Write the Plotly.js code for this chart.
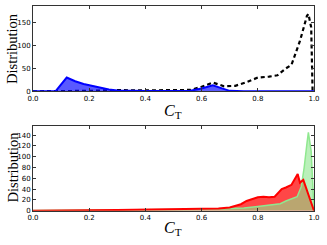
<!DOCTYPE html>
<html>
<head>
<meta charset="utf-8">
<script src="https://cdn.plot.ly/plotly-3.0.1.min.js"></script>
<style>html,body{margin:0;padding:0;background:#fff;}#chart{width:327px;height:245px;}</style>
</head>
<body>
<div id="chart"></div>
<script>
// Top panel data
const blueX = [0, 0.08, 0.12, 0.15, 0.18, 0.21, 0.24, 0.27, 0.3, 0.35, 0.4, 0.5, 0.56, 0.6, 0.64, 0.67, 0.7, 0.75, 1.0];
const blueY = [0, 0, 30, 22, 16, 12, 8, 4, 2, 1, 0.5, 0.5, 1, 6, 13, 7, 1, 0, 0];
const dashX = [0, 0.1, 0.2, 0.26, 0.3, 0.4, 0.5, 0.56, 0.6, 0.64, 0.68, 0.72, 0.76, 0.8, 0.84, 0.87, 0.9, 0.92, 0.95, 0.975, 0.98, 0.99, 0.995];
const dashY = [0, 0, 1, 2, 2.5, 2, 2, 3, 10, 19, 11, 12, 20, 30, 32, 35, 50, 58, 110, 165, 169, 140, 0];
// Bottom panel data
const redX = [0, 0.15, 0.2, 0.3, 0.4, 0.5, 0.6, 0.66, 0.7, 0.72, 0.74, 0.76, 0.78, 0.8, 0.82, 0.84, 0.86, 0.885, 0.9, 0.92, 0.942, 0.95, 0.962, 1.0];
const redY = [0, 0, 1, 1.5, 2, 2, 3.5, 4, 6, 9, 12, 18, 22, 25, 26, 25, 26, 40, 43, 48, 68, 52, 57, 0];
const greenX = [0, 0.2, 0.4, 0.5, 0.6, 0.7, 0.75, 0.8, 0.85, 0.88, 0.9, 0.92, 0.94, 0.955, 0.965, 0.975, 0.98, 0.99, 1.0];
const greenY = [0.5, 1, 1, 1.5, 2.5, 4, 5, 8, 11, 13, 18, 22, 26, 45, 80, 125, 145, 110, 0];
const xTickVals = [0, 0.2, 0.4, 0.6, 0.8, 1.0];
const xTickText = ['0.0', '0.2', '0.4', '0.6', '0.8', '1.0'];
const topYTicks = [0, 50, 100, 150];
const botYTicks = [0, 20, 40, 60, 80, 100, 120, 140];

const W = 327, H = 245;
const px = v => v / W;
const py = v => 1 - v / H;

const traces = [
  {x: dashX, y: dashY, type: 'scatter', mode: 'lines', line: {color: '#000', width: 2.2, dash: '4px,3px'}, xaxis: 'x', yaxis: 'y', hoverinfo: 'skip'},
  {x: blueX, y: blueY, type: 'scatter', mode: 'lines', fill: 'tozeroy', fillcolor: 'rgba(0,0,255,0.65)', line: {color: '#0000ff', width: 2}, xaxis: 'x', yaxis: 'y', hoverinfo: 'skip'},
  {x: redX, y: redY, type: 'scatter', mode: 'lines', fill: 'tozeroy', fillcolor: 'rgba(255,0,0,0.72)', line: {color: 'rgba(0,0,0,0)', width: 0}, xaxis: 'x2', yaxis: 'y2', hoverinfo: 'skip'},
  {x: greenX, y: greenY, type: 'scatter', mode: 'lines', fill: 'tozeroy', fillcolor: 'rgba(140,230,140,0.6)', line: {color: '#8fe88f', width: 1.5}, xaxis: 'x2', yaxis: 'y2', hoverinfo: 'skip'},
  {x: redX, y: redY, type: 'scatter', mode: 'lines', line: {color: '#ff0000', width: 2}, xaxis: 'x2', yaxis: 'y2', hoverinfo: 'skip'}
];

const axisCommon = {
  showgrid: false, zeroline: false, showline: true, linecolor: '#333', linewidth: 1,
  mirror: 'allticks', ticks: 'inside', ticklen: 3, tickcolor: '#333',
  tickfont: {family: 'DejaVu Sans', size: 7, color: '#000'}, fixedrange: true
};

const layout = {
  width: W, height: H,
  margin: {l: 0, r: 0, t: 0, b: 0},
  paper_bgcolor: '#fff', plot_bgcolor: '#fff',
  showlegend: false,
  xaxis: Object.assign({}, axisCommon, {domain: [px(33), px(314)], range: [0, 1], tickvals: xTickVals, ticktext: xTickText, anchor: 'y'}),
  yaxis: Object.assign({}, axisCommon, {domain: [py(91.3), py(6)], range: [0, 186.5], tickvals: topYTicks, anchor: 'x'}),
  xaxis2: Object.assign({}, axisCommon, {domain: [px(33), px(314)], range: [0, 1], tickvals: xTickVals, ticktext: xTickText, anchor: 'y2'}),
  yaxis2: Object.assign({}, axisCommon, {domain: [py(210.7), py(126)], range: [0, 157], tickvals: botYTicks, anchor: 'x2'}),
  annotations: [
    {text: 'Distribution', xref: 'paper', yref: 'paper', x: px(12), y: py(49), textangle: -90, showarrow: false, font: {family: 'Liberation Serif', size: 14.5, color: '#000'}, xanchor: 'center', yanchor: 'middle'},
    {text: 'Distribution', xref: 'paper', yref: 'paper', x: px(12), y: py(167.5), textangle: -90, showarrow: false, font: {family: 'Liberation Serif', size: 14.5, color: '#000'}, xanchor: 'center', yanchor: 'middle'},
    {text: '<i>C</i><sub>T</sub>', xref: 'paper', yref: 'paper', x: px(173), y: py(111), showarrow: false, font: {family: 'Liberation Serif', size: 16, color: '#000'}, xanchor: 'center', yanchor: 'middle'},
    {text: '<i>C</i><sub>T</sub>', xref: 'paper', yref: 'paper', x: px(173), y: py(228), showarrow: false, font: {family: 'Liberation Serif', size: 16, color: '#000'}, xanchor: 'center', yanchor: 'middle'}
  ]
};

Plotly.newPlot('chart', traces, layout, {staticPlot: true, displayModeBar: false});
</script>
</body>
</html>
